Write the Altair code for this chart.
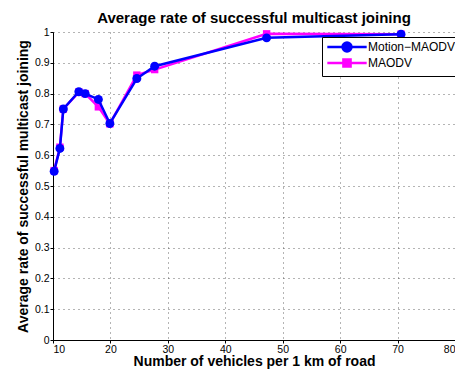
import altair as alt
import pandas as pd

x_vals = [10.2, 11.2, 11.8, 14.5, 15.6, 17.9, 19.9, 24.6, 27.7, 47.2, 70.6]
motion_maodv = [0.548, 0.622, 0.750, 0.806, 0.800, 0.781, 0.703, 0.849, 0.889, 0.981, 0.993]
maodv = [0.550, 0.626, 0.750, 0.805, 0.800, 0.757, 0.702, 0.860, 0.878, 0.994, 0.993]
series_names = ["Motion\u2212MAODV", "MAODV"]
series_colors = ["#0000FF", "#FF00FF"]
series_shapes = ["circle", "square"]
x_ticks = [10, 20, 30, 40, 50, 60, 70, 80]
y_ticks = [0, 0.1, 0.2, 0.3, 0.4, 0.5, 0.6, 0.7, 0.8, 0.9, 1.0]

df = pd.DataFrame(
    {"x": x_vals * 2,
     "y": motion_maodv + maodv,
     "series": [series_names[0]] * len(x_vals) + [series_names[1]] * len(x_vals)}
)

font = "Liberation Sans"

# legend glyphs: line with marker on it
circle_path = "M-4.4,0L-1,0A1,1 0 1,1 1,0A1,1 0 1,1 -1,0M1,0L4.4,0"
square_path = "M-4.4,0L-0.8,0L-0.8,-0.8L0.8,-0.8L0.8,0.8L-0.8,0.8L-0.8,0M0.8,0L4.4,0"

xenc = alt.X("x:Q", scale=alt.Scale(domain=[10, 80], nice=False),
             axis=alt.Axis(values=x_ticks, title="Number of vehicles per 1 km of road"))
yenc = alt.Y("y:Q", scale=alt.Scale(domain=[0, 1], nice=False),
             axis=alt.Axis(values=y_ticks, format="~g",
                           title="Average rate of successful multicast joining"))
color = alt.Color(
    "series:N", scale=alt.Scale(domain=series_names, range=series_colors),
    legend=alt.Legend(
        title=None, orient="none", legendX=269, legendY=5,
        fillColor="white", strokeColor="black", padding=4,
        labelFontSize=12, labelFont=font, labelColor="black",
        symbolSize=80, symbolStrokeWidth=2.5, rowPadding=-8,
        symbolOffset=15, labelOffset=15,
        symbolType={"expr": "datum.value == 'MAODV' ? '%s' : '%s'" % (square_path, circle_path)},
        symbolStrokeColor={"expr": "scale('color', datum.value)"},
        symbolFillColor={"expr": "scale('color', datum.value)"},
    ),
)


def layer(i, size):
    name = series_names[i]
    base = alt.Chart(df).transform_filter(alt.datum.series == name)
    ln = base.mark_line(strokeWidth=2.5).encode(x=xenc, y=yenc, color=color)
    pt = base.mark_point(filled=True, size=size, opacity=1, color=series_colors[i],
                         shape=series_shapes[i]).encode(x=xenc, y=yenc)
    return ln + pt


chart = alt.layer(layer(1, 55), layer(0, 80)).properties(
    width=402, height=308,
    autosize=alt.AutoSizeParams(type="none"),
    padding={"left": 45, "top": 24, "right": 0, "bottom": 30},
    title=alt.TitleParams("Average rate of successful multicast joining",
                          font=font, fontSize=15, fontWeight="bold", anchor="middle", offset=1),
).configure_view(stroke=None).configure_axis(
    grid=True, gridColor="#444444", gridDash=[1, 4], gridOpacity=0.8,
    domainColor="black", tickColor="black", tickSize=3,
    labelFont=font, labelFontSize=10.5, labelColor="black", labelPadding=1,
    titleFont=font, titleFontSize=14, titleFontWeight="bold", titleColor="black",
).configure_axisY(titlePadding=4).configure_axisX(titlePadding=0)

chart.save("out.html", embed_options={"renderer": "svg", "actions": False})
